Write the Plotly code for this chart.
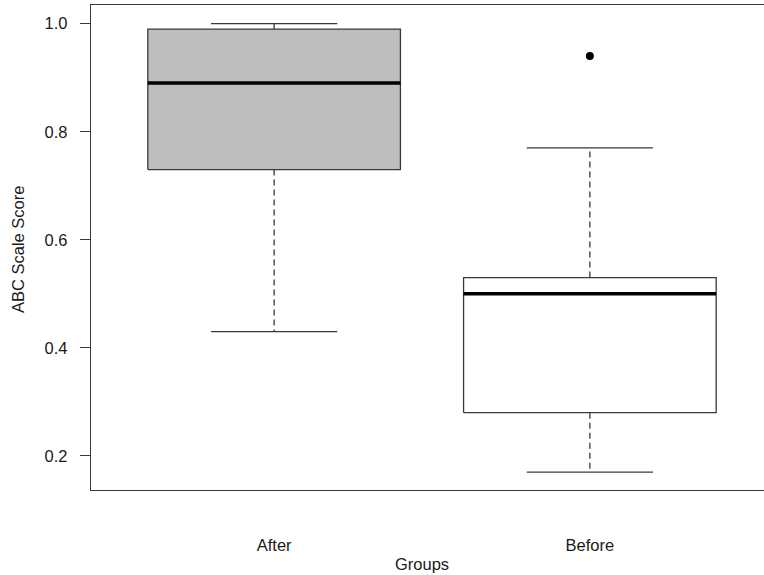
import plotly.graph_objects as go

groups = ["After", "Before"]
lower_whisker = [0.43, 0.17]
q1 = [0.73, 0.28]
median = [0.89, 0.50]
q3 = [0.99, 0.53]
upper_whisker = [1.00, 0.77]
outliers = [[], [0.94]]
fills = ["#bebebe", "#ffffff"]
y_ticks = [0.2, 0.4, 0.6, 0.8, 1.0]
y_ticklabels = ["0.2", "0.4", "0.6", "0.8", "1.0"]

BOX_HALF = 0.4
CAP_HALF = 0.2
LINE_COL = "#3a3a3a"
TEXT_COL = "#1a1a1a"
FONT = "Liberation Sans, Arial, sans-serif"
FS = 16.5

fig = go.Figure()
for i, g in enumerate(groups):
    x = i + 1
    # whiskers (dashed)
    fig.add_trace(go.Scatter(x=[x, x], y=[q3[i], upper_whisker[i]], mode="lines",
                             line=dict(color=LINE_COL, width=1.3, dash="6px,4px"),
                             showlegend=False, hoverinfo="skip"))
    fig.add_trace(go.Scatter(x=[x, x], y=[q1[i], lower_whisker[i]], mode="lines",
                             line=dict(color=LINE_COL, width=1.3, dash="6px,4px"),
                             showlegend=False, hoverinfo="skip"))
    # caps
    for v in (upper_whisker[i], lower_whisker[i]):
        fig.add_trace(go.Scatter(x=[x - CAP_HALF, x + CAP_HALF], y=[v, v], mode="lines",
                                 line=dict(color=LINE_COL, width=1.3),
                                 showlegend=False, hoverinfo="skip"))
    # box
    fig.add_trace(go.Scatter(x=[x - BOX_HALF, x + BOX_HALF, x + BOX_HALF, x - BOX_HALF, x - BOX_HALF],
                             y=[q1[i], q1[i], q3[i], q3[i], q1[i]], mode="lines",
                             fill="toself", fillcolor=fills[i],
                             line=dict(color=LINE_COL, width=1.3),
                             showlegend=False, hoverinfo="skip"))
    # median
    fig.add_trace(go.Scatter(x=[x - BOX_HALF, x + BOX_HALF], y=[median[i], median[i]], mode="lines",
                             line=dict(color="#000000", width=3.5),
                             showlegend=False, hoverinfo="skip"))
    # outliers
    if outliers[i]:
        fig.add_trace(go.Scatter(x=[x] * len(outliers[i]), y=outliers[i], mode="markers",
                                 marker=dict(color="#000000", size=8),
                                 showlegend=False, hoverinfo="skip"))

# The original figure is wider than the visible window (its right frame edge is cut off),
# so the figure is drawn wider and cropped by the 764px window.
fig.update_layout(
    width=790, height=575,
    margin=dict(l=91, r=17, t=5, b=85),
    plot_bgcolor="white", paper_bgcolor="white",
    font=dict(family=FONT, size=FS, color=TEXT_COL),
    showlegend=False,
)
fig.update_xaxes(
    range=[0.42, 2.58], tickvals=[1, 2], ticktext=groups,
    showgrid=False, zeroline=False, showline=True, mirror=True,
    linecolor=LINE_COL, linewidth=1.3, ticks="", ticklabelstandoff=40,
    tickfont=dict(size=FS, color=TEXT_COL),
)
fig.update_yaxes(
    range=[0.1368, 1.0346], tickvals=y_ticks, ticktext=y_ticklabels,
    showgrid=False, zeroline=False, showline=True, mirror=True,
    linecolor=LINE_COL, linewidth=1.3, ticks="outside", ticklen=10, tickwidth=1.3,
    tickcolor=LINE_COL, ticklabelstandoff=9,
    tickfont=dict(size=FS, color=TEXT_COL),
)
fig.add_annotation(text="Groups", xref="paper", yref="paper",
                   x=(422 - 91) / 682, y=(490 - 564) / 485,
                   showarrow=False, xanchor="center", yanchor="middle",
                   font=dict(size=FS, color=TEXT_COL))
fig.add_annotation(text="ABC Scale Score", xref="paper", yref="paper",
                   x=(18 - 91) / 682, y=(490 - 250) / 485, textangle=-90,
                   showarrow=False, xanchor="center", yanchor="middle",
                   font=dict(size=FS, color=TEXT_COL))

fig.write_html("out.html", config={"displayModeBar": False})

# remove the browser's default body margin so the figure sits at the window corner
with open("out.html", "r", encoding="utf-8") as f:
    html = f.read()
html = html.replace("<body>", '<body style="margin:0;padding:0;overflow:hidden">', 1)
with open("out.html", "w", encoding="utf-8") as f:
    f.write(html)
